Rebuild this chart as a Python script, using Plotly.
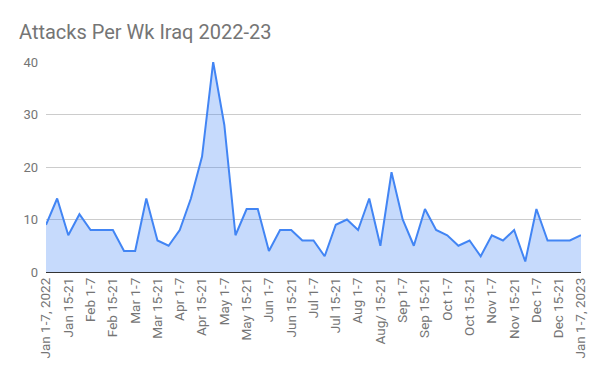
import plotly.graph_objects as go

categories = [
    "Jan 1-7, 2022", "Jan 8-14", "Jan 15-21", "Jan 22-31",
    "Feb 1-7", "Feb 8-14", "Feb 15-21", "Feb 22-28",
    "Mar 1-7", "Mar 8-14", "Mar 15-21", "Mar 22-31",
    "Apr 1-7", "Apr 8-14", "Apr 15-21", "Apr 22-30",
    "May 1-7", "May 8-14", "May 15-21", "May 22-31",
    "Jun 1-7", "Jun 8-14", "Jun 15-21", "Jun 22-30",
    "Jul 1-7", "Jul 8-14", "Jul 15-21", "Jul 22-31",
    "Aug 1-7", "Aug 8-14", "Aug/ 15-21", "Aug 22-31",
    "Sep 1-7", "Sep 8-14", "Sep 15-21", "Sep 22-30",
    "Oct 1-7", "Oct 8-14", "Oct 15-21", "Oct 22-31",
    "Nov 1-7", "Nov 8-14", "Nov 15-21", "Nov 22-30",
    "Dec 1-7", "Dec 8-14", "Dec 15-21", "Dec 22-31",
    "Jan 1-7, 2023",
]
attacks = [
    9, 14, 7, 11, 8, 8, 8, 4, 4, 14, 6, 5, 8, 14, 22, 40,
    28, 7, 12, 12, 4, 8, 8, 6, 6, 3, 9, 10, 8, 14, 5, 19,
    10, 5, 12, 8, 7, 5, 6, 3, 7, 6, 8, 2, 12, 6, 6, 6, 7,
]
tick_labels = categories[::2]
y_ticks = [0, 10, 20, 30, 40]

fig = go.Figure()
fig.add_trace(go.Scatter(
    x=categories, y=attacks, mode="lines",
    line=dict(color="#4285F4", width=2),
    fill="tozeroy", fillcolor="rgba(66,133,244,0.3)",
    hoverinfo="x+y",
))

fig.update_layout(
    width=600, height=371,
    margin=dict(l=46, r=19, t=62, b=99, autoexpand=False),
    paper_bgcolor="white", plot_bgcolor="white",
    font=dict(family="Roboto, Arial, sans-serif", color="#757575", size=12),
    title=dict(text="Attacks Per Wk Iraq 2022-23", x=19/600, xref="container",
               xanchor="left", y=1-32/371, yref="container", yanchor="middle",
               pad=dict(l=0, r=0, t=0, b=0),
               font=dict(size=20, color="#757575", family="Roboto, Arial, sans-serif")),
    showlegend=False,
    xaxis=dict(
        type="category", range=[0, len(categories) - 1], automargin=False,
        tickmode="array", tickvals=tick_labels, ticktext=tick_labels,
        tickangle=-90, showgrid=False, zeroline=False,
        showline=False, ticks="", tickfont=dict(size=13.5, color="#757575"),
        ticklabelstandoff=2,
    ),
    yaxis=dict(
        range=[0, 40], tickvals=y_ticks, showgrid=True, gridcolor="#cccccc",
        gridwidth=1, zeroline=True, zerolinecolor="#333333", zerolinewidth=1,
        showline=False, ticks="", automargin=False,
        tickfont=dict(size=13, color="#757575"),
        ticklabelstandoff=7,
    ),
)

fig.write_html(
    "out.html",
    config={"displayModeBar": False},
    post_script="document.body.style.margin='0';document.body.style.overflow='hidden';",
)
